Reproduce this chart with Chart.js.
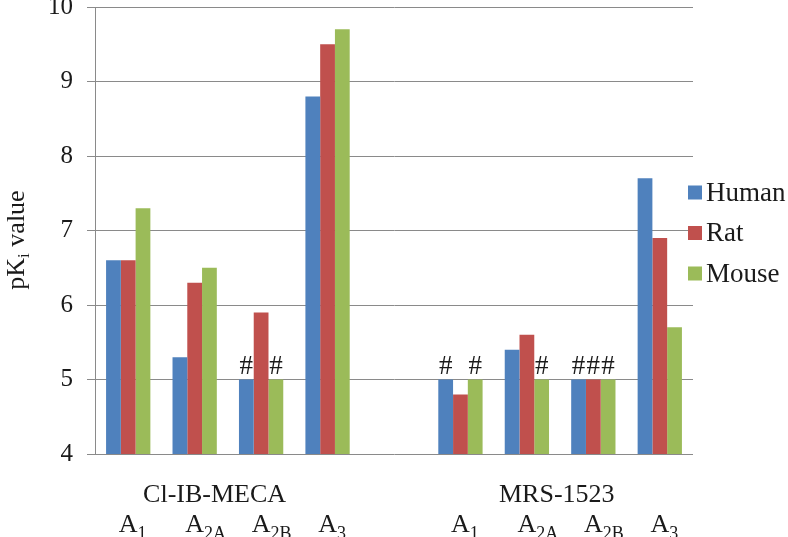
<!DOCTYPE html>
<html><head><meta charset="utf-8">
<script src="https://cdn.jsdelivr.net/npm/chart.js@4/dist/chart.umd.min.js"></script>
<style>html,body{margin:0;padding:0;background:#fff;} #wrap{width:788px;height:537px;}</style>
</head><body><div id="wrap"><canvas id="c" width="788" height="537"></canvas></div>
<script>
const categoryMain = ['A','A','A','A','','A','A','A','A'];
const categorySub = ['1','2A','2B','3','','1','2A','2B','3'];
const groupLabels = ['Cl-IB-MECA','MRS-1523'];
const groupCenters = [1.3, 6.45];
const seriesNames = ['Human','Rat','Mouse'];
const seriesColors = ['#4F81BD','#C0504D','#9BBB59'];
const human = [6.6,5.3,5.0,8.8,null,5.0,5.4,5.0,7.7];
const rat   = [6.6,6.3,5.9,9.5,null,4.8,5.6,5.0,6.9];
const mouse = [7.3,6.5,5.0,9.7,null,5.0,5.0,5.0,5.7];
const humanHash = [0,0,1,0,0,1,0,1,0];
const ratHash   = [0,0,0,0,0,0,0,1,0];
const mouseHash = [0,0,1,0,0,1,1,1,0];
const yMin = 4, yMax = 10, yStep = 1;
const yTitleMain = 'pK', yTitleSub = 'i', yTitleRest = ' value';

const SERIF = "'Liberation Serif','Times New Roman',serif";
const hashFlags = [humanHash, ratHash, mouseHash];

const extras = {
  id: 'extras',
  afterDatasetsDraw(chart) {
    const ctx = chart.ctx;
    const xs = chart.scales.x;
    const ca = chart.chartArea;
    ctx.save();
    ctx.fillStyle = '#1a1a1a';
    // hash marks
    ctx.font = '27px ' + SERIF;
    ctx.textAlign = 'center';
    ctx.textBaseline = 'alphabetic';
    chart.data.datasets.forEach((ds, di) => {
      const meta = chart.getDatasetMeta(di);
      meta.data.forEach((bar, i) => {
        if (hashFlags[di][i]) ctx.fillText('#', bar.x, bar.y - 6);
      });
    });
    // group labels
    ctx.font = '26px ' + SERIF;
    groupLabels.forEach((g, i) => {
      ctx.fillText(g, xs.getPixelForValue(groupCenters[i]), 502);
    });
    // category labels with subscripts
    categoryMain.forEach((m, i) => {
      if (!m) return;
      const cx = xs.getPixelForValue(i);
      ctx.font = '26px ' + SERIF;
      ctx.textAlign = 'center';
      ctx.fillText(m, cx, 532);
      const w = ctx.measureText(m).width;
      ctx.font = '18px ' + SERIF;
      ctx.textAlign = 'left';
      ctx.fillText(categorySub[i], cx + w / 2, 539);
    });
    // y title
    ctx.save();
    ctx.translate(24, 240);
    ctx.rotate(-Math.PI / 2);
    ctx.textAlign = 'left';
    ctx.font = '26px ' + SERIF;
    const w1 = ctx.measureText(yTitleMain).width;
    const w3 = ctx.measureText(yTitleRest).width;
    ctx.font = '17px ' + SERIF;
    const w2 = ctx.measureText(yTitleSub).width;
    let x0 = -(w1 + w2 + w3) / 2;
    ctx.font = '26px ' + SERIF;
    ctx.fillText(yTitleMain, x0, 0);
    ctx.font = '17px ' + SERIF;
    ctx.fillText(yTitleSub, x0 + w1, 5);
    ctx.font = '26px ' + SERIF;
    ctx.fillText(yTitleRest, x0 + w1 + w2, 0);
    ctx.restore();
    // legend
    const mid = (ca.top + ca.bottom) / 2 + 2.5;
    const gap = 40.5;
    ctx.font = '27px ' + SERIF;
    ctx.textAlign = 'left';
    ctx.textBaseline = 'middle';
    chart.data.datasets.forEach((ds, di) => {
      const y = mid + (di - 1) * gap;
      ctx.fillStyle = ds.backgroundColor;
      ctx.fillRect(ca.right - 5, y - 7, 14, 14);
      ctx.fillStyle = '#1a1a1a';
      ctx.fillText(ds.label, ca.right + 13, y + 1);
    });
    ctx.restore();
  }
};

new Chart(document.getElementById('c'), {
  type: 'bar',
  data: {
    labels: categoryMain.map((m, i) => m + categorySub[i]),
    datasets: [
      { label: seriesNames[0], data: human, backgroundColor: seriesColors[0] },
      { label: seriesNames[1], data: rat, backgroundColor: seriesColors[1] },
      { label: seriesNames[2], data: mouse, backgroundColor: seriesColors[2] }
    ]
  },
  options: {
    responsive: false,
    devicePixelRatio: 1,
    animation: false,
    layout: { padding: { top: 7, right: 95, left: 0, bottom: 0 } },
    datasets: { bar: { categoryPercentage: 3 / 4.5, barPercentage: 1, borderWidth: 0 } },
    plugins: { legend: { display: false }, tooltip: { enabled: false } },
    scales: {
      x: {
        ticks: { display: false },
        grid: { display: false },
        border: { display: false },
        afterFit(s) { s.height = 83; s.paddingLeft = 0; s.paddingRight = 0; }
      },
      y: {
        min: yMin, max: yMax,
        ticks: { stepSize: yStep, padding: 14, color: '#1a1a1a', font: { family: SERIF, size: 25 } },
        grid: { color: '#8a8a8a', tickLength: 8, lineWidth: 1 },
        border: { color: '#8a8a8a' },
        afterFit(s) { s.width = 95; s.paddingTop = 0; s.paddingBottom = 0; }
      }
    }
  },
  plugins: [extras]
});
</script>
</body></html>
